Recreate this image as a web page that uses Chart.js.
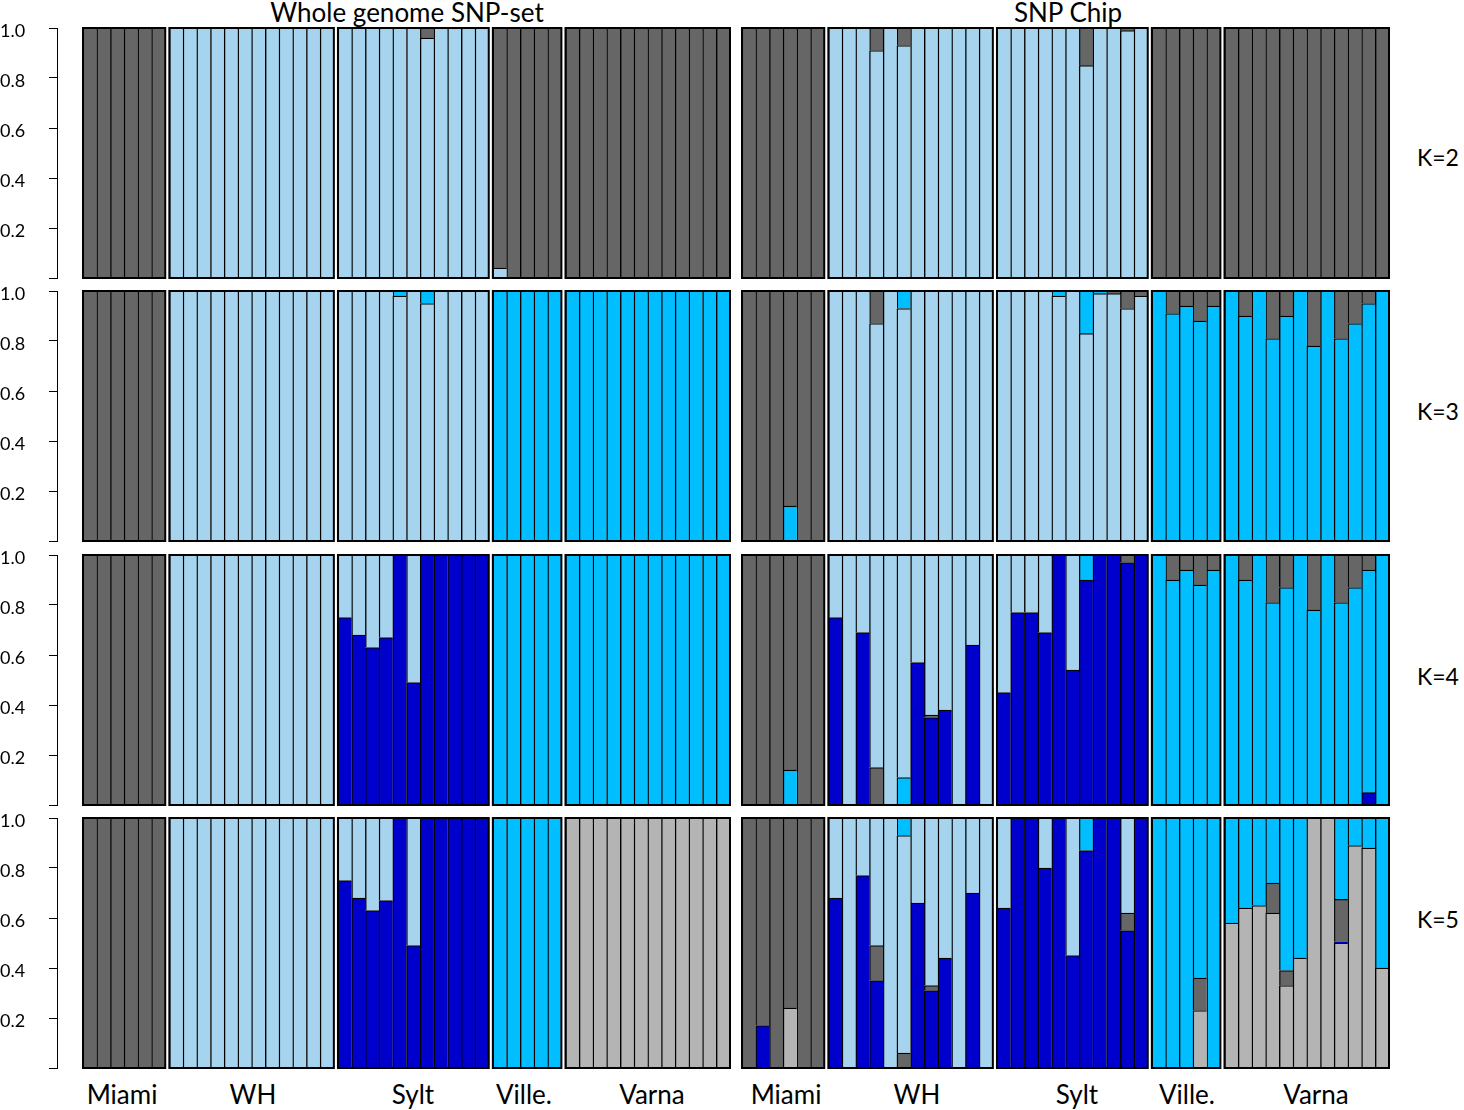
<!DOCTYPE html>
<html>
<head>
<meta charset="utf-8">
<script src="https://cdn.jsdelivr.net/npm/chart.js@4.4.1/dist/chart.umd.min.js"></script>
<style>
  body { margin: 0; background: #fff; width: 1464px; height: 1110px; position: relative; overflow: hidden; font-family: Lato, "Open Sans", sans-serif; color: #000; }
  canvas { position: absolute; }
  .txt { position: absolute; white-space: nowrap; transform: translate(-50%, -50%); line-height: 1; }
  .title { font-size: 26px; }
  .pop { font-size: 26px; }
  .k { font-size: 23px; }
</style>
</head>
<body>
<div class="txt title" style="left:407px; top:12px;">Whole genome SNP-set</div>
<div class="txt title" style="left:1068px; top:12px;">SNP Chip</div>
<div class="txt k" style="left:1438px; top:157px;">K=2</div>
<div class="txt k" style="left:1438px; top:411px;">K=3</div>
<div class="txt k" style="left:1438px; top:676px;">K=4</div>
<div class="txt k" style="left:1438px; top:919px;">K=5</div>
<div id="labels"></div>

<script>
// populations and number of individuals in each
const populations = ["Miami", "WH", "Sylt", "Ville.", "Varna"];
const groupSizes = [6, 12, 11, 5, 12];

// ancestry colours
const GRAY = "#666666";
const LBLUE = "#A6D4EE";
const BBLUE = "#00BEFF";
const DBLUE = "#0000CC";
const LGRAY = "#B4B4B4";

// ---------- Whole genome SNP-set ----------
// K=2 (bottom -> top: light blue, gray)
const wgK2Lblue = [
  0, 0, 0, 0, 0, 0,
  1, 1, 1, 1, 1, 1, 1, 1, 1, 1, 1, 1,
  1, 1, 1, 1, 1, 1, 0.96, 1, 1, 1, 1,
  0.04, 0, 0, 0, 0,
  0, 0, 0, 0, 0, 0, 0, 0, 0, 0, 0, 0];
const wgK2Gray = [
  1, 1, 1, 1, 1, 1,
  0, 0, 0, 0, 0, 0, 0, 0, 0, 0, 0, 0,
  0, 0, 0, 0, 0, 0, 0.04, 0, 0, 0, 0,
  0.96, 1, 1, 1, 1,
  1, 1, 1, 1, 1, 1, 1, 1, 1, 1, 1, 1];

// K=3 (light blue, bright blue, gray)
const wgK3Lblue = [
  0, 0, 0, 0, 0, 0,
  1, 1, 1, 1, 1, 1, 1, 1, 1, 1, 1, 1,
  1, 1, 1, 1, 0.98, 1, 0.95, 1, 1, 1, 1,
  0, 0, 0, 0, 0,
  0, 0, 0, 0, 0, 0, 0, 0, 0, 0, 0, 0];
const wgK3Bblue = [
  0, 0, 0, 0, 0, 0,
  0, 0, 0, 0, 0, 0, 0, 0, 0, 0, 0, 0,
  0, 0, 0, 0, 0.02, 0, 0.05, 0, 0, 0, 0,
  1, 1, 1, 1, 1,
  1, 1, 1, 1, 1, 1, 1, 1, 1, 1, 1, 1];
const wgK3Gray = [
  1, 1, 1, 1, 1, 1,
  0, 0, 0, 0, 0, 0, 0, 0, 0, 0, 0, 0,
  0, 0, 0, 0, 0, 0, 0, 0, 0, 0, 0,
  0, 0, 0, 0, 0,
  0, 0, 0, 0, 0, 0, 0, 0, 0, 0, 0, 0];

// K=4 (dark blue, bright blue, gray, light blue)
const wgK4Dblue = [
  0, 0, 0, 0, 0, 0,
  0, 0, 0, 0, 0, 0, 0, 0, 0, 0, 0, 0,
  0.75, 0.68, 0.63, 0.67, 1, 0.49, 1, 1, 1, 1, 1,
  0, 0, 0, 0, 0,
  0, 0, 0, 0, 0, 0, 0, 0, 0, 0, 0, 0];
const wgK4Bblue = [
  0, 0, 0, 0, 0, 0,
  0, 0, 0, 0, 0, 0, 0, 0, 0, 0, 0, 0,
  0, 0, 0, 0, 0, 0, 0, 0, 0, 0, 0,
  1, 1, 1, 1, 1,
  1, 1, 1, 1, 1, 1, 1, 1, 1, 1, 1, 1];
const wgK4Gray = [
  1, 1, 1, 1, 1, 1,
  0, 0, 0, 0, 0, 0, 0, 0, 0, 0, 0, 0,
  0, 0, 0, 0, 0, 0, 0, 0, 0, 0, 0,
  0, 0, 0, 0, 0,
  0, 0, 0, 0, 0, 0, 0, 0, 0, 0, 0, 0];
const wgK4Lblue = [
  0, 0, 0, 0, 0, 0,
  1, 1, 1, 1, 1, 1, 1, 1, 1, 1, 1, 1,
  0.25, 0.32, 0.37, 0.33, 0, 0.51, 0, 0, 0, 0, 0,
  0, 0, 0, 0, 0,
  0, 0, 0, 0, 0, 0, 0, 0, 0, 0, 0, 0];

// K=5 (light gray, dark blue, gray, light blue, bright blue)
const wgK5Lgray = [
  0, 0, 0, 0, 0, 0,
  0, 0, 0, 0, 0, 0, 0, 0, 0, 0, 0, 0,
  0, 0, 0, 0, 0, 0, 0, 0, 0, 0, 0,
  0, 0, 0, 0, 0,
  1, 1, 1, 1, 1, 1, 1, 1, 1, 1, 1, 1];
const wgK5Dblue = [
  0, 0, 0, 0, 0, 0,
  0, 0, 0, 0, 0, 0, 0, 0, 0, 0, 0, 0,
  0.75, 0.68, 0.63, 0.67, 1, 0.49, 1, 1, 1, 1, 1,
  0, 0, 0, 0, 0,
  0, 0, 0, 0, 0, 0, 0, 0, 0, 0, 0, 0];
const wgK5Gray = [
  1, 1, 1, 1, 1, 1,
  0, 0, 0, 0, 0, 0, 0, 0, 0, 0, 0, 0,
  0, 0, 0, 0, 0, 0, 0, 0, 0, 0, 0,
  0, 0, 0, 0, 0,
  0, 0, 0, 0, 0, 0, 0, 0, 0, 0, 0, 0];
const wgK5Lblue = [
  0, 0, 0, 0, 0, 0,
  1, 1, 1, 1, 1, 1, 1, 1, 1, 1, 1, 1,
  0.25, 0.32, 0.37, 0.33, 0, 0.51, 0, 0, 0, 0, 0,
  0, 0, 0, 0, 0,
  0, 0, 0, 0, 0, 0, 0, 0, 0, 0, 0, 0];
const wgK5Bblue = [
  0, 0, 0, 0, 0, 0,
  0, 0, 0, 0, 0, 0, 0, 0, 0, 0, 0, 0,
  0, 0, 0, 0, 0, 0, 0, 0, 0, 0, 0,
  1, 1, 1, 1, 1,
  0, 0, 0, 0, 0, 0, 0, 0, 0, 0, 0, 0];

// ---------- SNP Chip ----------
// K=2 (light blue, gray)
const chK2Lblue = [
  0, 0, 0, 0, 0, 0,
  1, 1, 1, 0.91, 1, 0.93, 1, 1, 1, 1, 1, 1,
  1, 1, 1, 1, 1, 1, 0.85, 1, 1, 0.99, 1,
  0, 0, 0, 0, 0,
  0, 0, 0, 0, 0, 0, 0, 0, 0, 0, 0, 0];
const chK2Gray = [
  1, 1, 1, 1, 1, 1,
  0, 0, 0, 0.09, 0, 0.07, 0, 0, 0, 0, 0, 0,
  0, 0, 0, 0, 0, 0, 0.15, 0, 0, 0.01, 0,
  1, 1, 1, 1, 1,
  1, 1, 1, 1, 1, 1, 1, 1, 1, 1, 1, 1];

// K=3 (light blue, bright blue, gray)
const chK3Lblue = [
  0, 0, 0, 0, 0, 0,
  1, 1, 1, 0.87, 1, 0.93, 1, 1, 1, 1, 1, 1,
  1, 1, 1, 1, 0.98, 1, 0.83, 0.99, 0.99, 0.93, 0.98,
  0, 0, 0, 0, 0,
  0, 0, 0, 0, 0, 0, 0, 0, 0, 0, 0, 0];
const chK3Bblue = [
  0, 0, 0, 0.14, 0, 0,
  0, 0, 0, 0, 0, 0.07, 0, 0, 0, 0, 0, 0,
  0, 0, 0, 0, 0.02, 0, 0.17, 0.01, 0, 0, 0,
  1, 0.91, 0.94, 0.88, 0.94,
  1, 0.90, 1, 0.81, 0.90, 1, 0.78, 1, 0.81, 0.87, 0.95, 1];
const chK3Gray = [
  1, 1, 1, 0.86, 1, 1,
  0, 0, 0, 0.13, 0, 0, 0, 0, 0, 0, 0, 0,
  0, 0, 0, 0, 0, 0, 0, 0, 0.01, 0.07, 0.02,
  0, 0.09, 0.06, 0.12, 0.06,
  0, 0.10, 0, 0.19, 0.10, 0, 0.22, 0, 0.19, 0.13, 0.05, 0];

// K=4 (dark blue, bright blue, gray, light blue)
const chK4Dblue = [
  0, 0, 0, 0, 0, 0,
  0.75, 0, 0.69, 0, 0, 0, 0.57, 0.35, 0.38, 0, 0.64, 0,
  0.45, 0.77, 0.77, 0.69, 1, 0.54, 0.90, 1, 1, 0.97, 1,
  0, 0, 0, 0, 0,
  0, 0, 0, 0, 0, 0, 0, 0, 0, 0, 0.05, 0];
const chK4Bblue = [
  0, 0, 0, 0.14, 0, 0,
  0, 0, 0, 0, 0, 0.11, 0, 0, 0, 0, 0, 0,
  0, 0, 0, 0, 0, 0, 0.10, 0, 0, 0, 0,
  1, 0.90, 0.94, 0.88, 0.94,
  1, 0.90, 1, 0.81, 0.87, 1, 0.78, 1, 0.81, 0.87, 0.89, 1];
const chK4Gray = [
  1, 1, 1, 0.86, 1, 1,
  0, 0, 0, 0.15, 0, 0, 0, 0.01, 0, 0, 0, 0,
  0, 0, 0, 0, 0, 0, 0, 0, 0, 0.03, 0,
  0, 0.10, 0.06, 0.12, 0.06,
  0, 0.10, 0, 0.19, 0.13, 0, 0.22, 0, 0.19, 0.13, 0.06, 0];
const chK4Lblue = [
  0, 0, 0, 0, 0, 0,
  0.25, 1, 0.31, 0.85, 1, 0.89, 0.43, 0.64, 0.62, 1, 0.36, 1,
  0.55, 0.23, 0.23, 0.31, 0, 0.46, 0, 0, 0, 0, 0,
  0, 0, 0, 0, 0,
  0, 0, 0, 0, 0, 0, 0, 0, 0, 0, 0, 0];

// K=5 (light gray, dark blue, gray, light blue, bright blue)
const chK5Lgray = [
  0, 0, 0, 0.24, 0, 0,
  0, 0, 0, 0, 0, 0, 0, 0, 0, 0, 0, 0,
  0, 0, 0, 0, 0, 0, 0, 0, 0, 0, 0,
  0, 0, 0, 0.23, 0,
  0.58, 0.64, 0.65, 0.62, 0.33, 0.44, 1, 1, 0.50, 0.89, 0.88, 0.40];
const chK5Dblue = [
  0, 0.17, 0, 0, 0, 0,
  0.68, 0, 0.77, 0.35, 0, 0, 0.66, 0.31, 0.44, 0, 0.70, 0,
  0.64, 1, 1, 0.80, 1, 0.45, 0.87, 1, 1, 0.55, 1,
  0, 0, 0, 0, 0,
  0, 0, 0, 0, 0, 0, 0, 0, 0.005, 0, 0, 0];
const chK5Gray = [
  1, 0.83, 1, 0.76, 1, 1,
  0, 0, 0, 0.14, 0, 0.06, 0, 0.02, 0, 0, 0, 0,
  0, 0, 0, 0, 0, 0, 0, 0, 0, 0.07, 0,
  0, 0, 0, 0.13, 0,
  0, 0, 0, 0.12, 0.06, 0, 0, 0, 0.17, 0, 0, 0];
const chK5Lblue = [
  0, 0, 0, 0, 0, 0,
  0.32, 1, 0.23, 0.51, 1, 0.87, 0.34, 0.67, 0.56, 1, 0.30, 1,
  0.36, 0, 0, 0.20, 0, 0.55, 0, 0, 0, 0.38, 0,
  0, 0, 0, 0, 0,
  0, 0, 0, 0, 0, 0, 0, 0, 0, 0, 0, 0];
const chK5Bblue = [
  0, 0, 0, 0, 0, 0,
  0, 0, 0, 0, 0, 0.07, 0, 0, 0, 0, 0, 0,
  0, 0, 0, 0, 0, 0, 0.13, 0, 0, 0, 0,
  1, 1, 1, 0.64, 1,
  0.42, 0.36, 0.35, 0.26, 0.61, 0.56, 0, 0, 0.33, 0.11, 0.12, 0.60];

////////////////////////////////
// x position of every individual: groups separated by a small gap
const GAP = 0.3;
const positions = [];
groupSizes.forEach((n, g) => {
  for (let i = 0; i < n; i++) positions.push(positions.length + GAP * g);
});
const lastPos = positions[positions.length - 1];
const UNIT = 647 / (lastPos + 1); // px per individual

// black frame round each population
const groupFrames = {
  id: "groupFrames",
  afterDatasetsDraw(chart) {
    const { ctx, scales } = chart;
    const x = scales.x;
    const y = scales.y;
    ctx.save();
    ctx.strokeStyle = "#000";
    ctx.lineWidth = 2;
    let j = 0;
    groupSizes.forEach((n) => {
      const l = x.getPixelForValue(positions[j] - 0.5);
      const r = x.getPixelForValue(positions[j + n - 1] + 0.5);
      const t = y.getPixelForValue(1);
      const b = y.getPixelForValue(0);
      ctx.strokeRect(l, t, r - l, b - t);
      j += n;
    });
    ctx.restore();
  },
};

const makePanel = (left, width, top, withAxis, series) => {
  const canvas = document.createElement("canvas");
  canvas.width = width;
  canvas.height = 274;
  canvas.style.left = left + "px";
  canvas.style.top = top - 12 + "px";
  document.body.appendChild(canvas);

  const padL = withAxis ? 0 : 8;
  const plotLeft = left + padL + (withAxis ? 57 : 0);
  const plotRight = left + width - 8;
  const firstBar = withAxis ? 83 : 742;
  const xMin = -0.5 - (firstBar - plotLeft) / UNIT;
  const xMax = xMin + (plotRight - plotLeft) / UNIT;

  const yAxis = {
    stacked: true,
    min: 0,
    max: 1,
    display: withAxis,
    border: { display: true, color: "#000", width: 1 },
    grid: { drawOnChartArea: false, drawTicks: true, tickLength: 8, color: "#000", tickColor: "#000" },
    ticks: {
      stepSize: 0.2,
      color: "#000",
      font: { family: "Lato", size: 18 },
      crossAlign: "far",
      padding: 0,
      labelOffset: 3,
      callback: (v) => (v === 0 ? "" : Number(v).toFixed(1)),
    },
  };
  if (withAxis) {
    yAxis.afterFit = (scale) => {
      scale.width = 57;
    };
  }

  new Chart(canvas, {
    type: "bar",
    data: {
      datasets: series.map(([values, color]) => ({
        data: values.map((v, j) => ({ x: positions[j], y: v > 0 ? v : null })),
        backgroundColor: color,
        borderColor: "#000",
        borderWidth: { top: 1.3, left: 1.4, right: 0, bottom: 0 },
        borderSkipped: false,
        barPercentage: 1,
        categoryPercentage: 1,
      })),
    },
    options: {
      responsive: false,
      animation: false,
      layout: { padding: { top: 12, bottom: 12, left: padL, right: 8 } },
      plugins: { legend: { display: false }, tooltip: { enabled: false } },
      scales: {
        x: {
          type: "linear",
          stacked: true,
          display: false,
          offset: false,
          bounds: "data",
          grid: { offset: false },
          min: xMin,
          max: xMax,
          ticks: { stepSize: 10 },
        },
        y: yAxis,
      },
    },
    plugins: [groupFrames],
  });
};

const rowTops = [28, 291, 554.5, 817.5];

makePanel(0, 740, rowTops[0], true, [[wgK2Lblue, LBLUE], [wgK2Gray, GRAY]]);
makePanel(0, 740, rowTops[1], true, [[wgK3Lblue, LBLUE], [wgK3Bblue, BBLUE], [wgK3Gray, GRAY]]);
makePanel(0, 740, rowTops[2], true, [[wgK4Dblue, DBLUE], [wgK4Bblue, BBLUE], [wgK4Gray, GRAY], [wgK4Lblue, LBLUE]]);
makePanel(0, 740, rowTops[3], true, [[wgK5Lgray, LGRAY], [wgK5Dblue, DBLUE], [wgK5Gray, GRAY], [wgK5Lblue, LBLUE], [wgK5Bblue, BBLUE]]);

makePanel(732, 668, rowTops[0], false, [[chK2Lblue, LBLUE], [chK2Gray, GRAY]]);
makePanel(732, 668, rowTops[1], false, [[chK3Lblue, LBLUE], [chK3Bblue, BBLUE], [chK3Gray, GRAY]]);
makePanel(732, 668, rowTops[2], false, [[chK4Dblue, DBLUE], [chK4Bblue, BBLUE], [chK4Gray, GRAY], [chK4Lblue, LBLUE]]);
makePanel(732, 668, rowTops[3], false, [[chK5Lgray, LGRAY], [chK5Dblue, DBLUE], [chK5Gray, GRAY], [chK5Lblue, LBLUE], [chK5Bblue, BBLUE]]);

// population names under the bottom row
const labelX = [
  [122, 253, 413, 524, 652],
  [786, 917, 1077, 1187, 1316],
];
const labelBox = document.getElementById("labels");
labelX.forEach((xs) => {
  xs.forEach((x, i) => {
    const d = document.createElement("div");
    d.className = "txt pop";
    d.style.left = x + "px";
    d.style.top = "1094px";
    d.textContent = populations[i];
    labelBox.appendChild(d);
  });
});
</script>
</body>
</html>
